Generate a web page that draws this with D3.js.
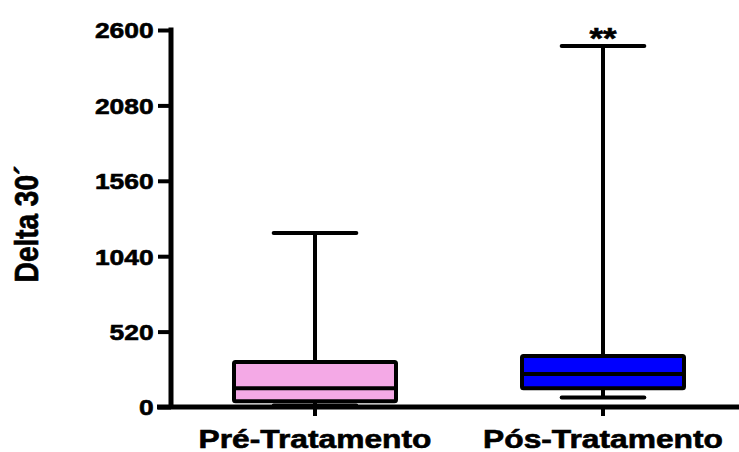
<!DOCTYPE html>
<html><head><meta charset="utf-8">
<script src="https://cdn.jsdelivr.net/npm/d3@7"></script>
<style>
html,body{margin:0;padding:0;background:#fff;}
text{font-family:"Liberation Sans",Arial,sans-serif;font-weight:bold;fill:#000;stroke:#000;stroke-width:0.6px;}
</style></head>
<body>
<svg id="chart" width="739" height="452"></svg>
<script>
const categories = ["Pré-Tratamento", "Pós-Tratamento"];
const mins    = [10, 65];
const q1s     = [40, 130];
const medians = [130, 228];
const q3s     = [310, 352];
const maxs    = [1200, 2490];
const fills   = ["#F4A9E6", "#0000FF"];
const yTicks  = [0, 520, 1040, 1560, 2080, 2600];
const yLabel  = "Delta 30´";
const annotation = "**";

const svg = d3.select("#chart");
const axisX = 171, axisY = 407;
const y = d3.scaleLinear().domain([0, 2600]).range([axisY, 30]);
const x = d3.scaleBand().domain(categories).range([171, 747]).padding(0);
const bw = x.bandwidth();
const boxW = bw * 0.5625;
const capW = boxW * 0.51;
const cx = c => x(c) + bw / 2;
const sw = 4;

categories.forEach((c, i) => {
  const g = svg.append("g");
  const xc = cx(c);
  g.append("line").attr("x1", xc).attr("x2", xc).attr("y1", y(maxs[i])).attr("y2", y(q3s[i]))
    .attr("stroke", "#000").attr("stroke-width", sw);
  g.append("line").attr("x1", xc).attr("x2", xc).attr("y1", y(q1s[i])).attr("y2", y(mins[i]))
    .attr("stroke", "#000").attr("stroke-width", sw);
  [maxs[i], mins[i]].forEach(v => {
    g.append("line").attr("x1", xc - capW / 2).attr("x2", xc + capW / 2)
      .attr("y1", y(v)).attr("y2", y(v))
      .attr("stroke", "#000").attr("stroke-width", sw).attr("stroke-linecap", "round");
  });
  g.append("rect").attr("x", xc - boxW / 2).attr("width", boxW)
    .attr("y", y(q3s[i])).attr("height", y(q1s[i]) - y(q3s[i]))
    .attr("fill", fills[i]).attr("stroke", "#000").attr("stroke-width", sw)
    .attr("rx", 1.5);
  g.append("line").attr("x1", xc - boxW / 2).attr("x2", xc + boxW / 2)
    .attr("y1", y(medians[i])).attr("y2", y(medians[i]))
    .attr("stroke", "#000").attr("stroke-width", sw);
});

const gy = svg.append("g").attr("transform", `translate(${axisX},0)`)
  .call(d3.axisLeft(y).tickValues(yTicks).tickSize(13).tickSizeOuter(0).tickFormat(d3.format("d")));
gy.select(".domain").attr("stroke", "#000").attr("stroke-width", 5).attr("d", `M0,${y(2600)-2.5}V${axisY}`);
gy.selectAll(".tick line").attr("stroke", "#000").attr("stroke-width", 4);
gy.selectAll(".tick text").attr("x", -14.5).attr("dy", "0.36em")
  .style("font-size", "22px").attr("transform", "scale(1.2,1)");

const gx = svg.append("g").attr("transform", `translate(0,${axisY})`)
  .call(d3.axisBottom(x).tickSize(9).tickSizeOuter(0));
gx.select(".domain").attr("stroke", "#000").attr("stroke-width", 5).attr("d", "M157,0H739");
gx.selectAll(".tick line").attr("stroke", "#000").attr("stroke-width", 4);
gx.selectAll(".tick text").attr("y", 41).attr("dy", 0)
  .style("font-size", "25px").attr("transform", "scale(1.27,1)")
  .attr("x", 0);

svg.append("text").attr("transform", "translate(38,224) scale(1.2,1) rotate(-90)")
  .attr("text-anchor", "middle").style("font-size", "28px").text(yLabel);

svg.append("text").attr("transform", `translate(${cx(categories[1])},48) scale(1.2,1)`)
  .attr("text-anchor", "middle").style("font-size", "29px").text(annotation);
</script>
</body></html>
